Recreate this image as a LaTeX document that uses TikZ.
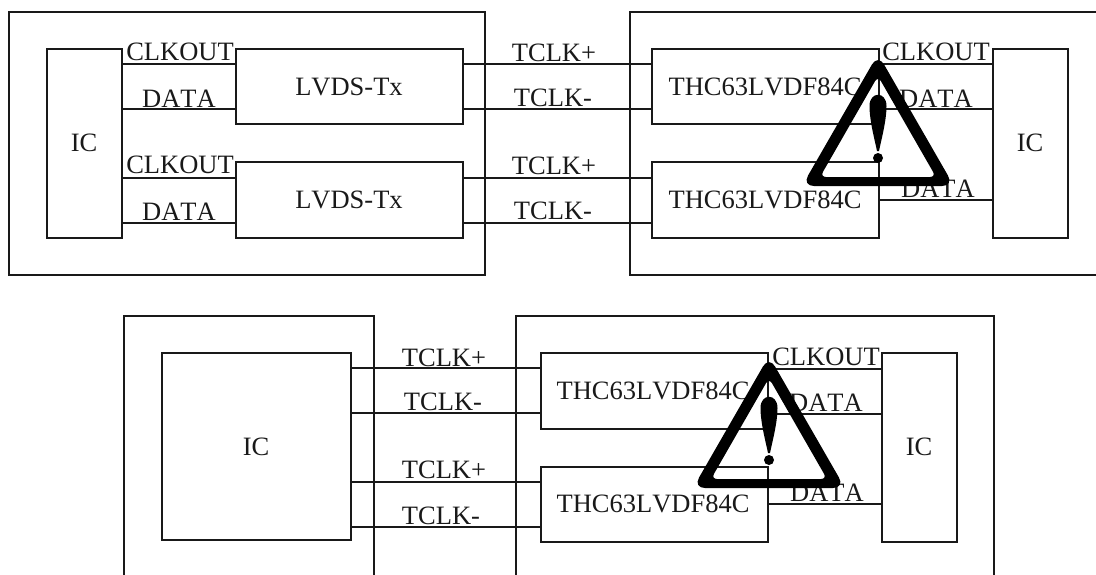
\documentclass[tikz,border=0pt]{standalone}
\usepackage{fontspec}
\setmainfont[Kerning=Off]{Liberation Serif}
\tikzset{
  ln/.style={line width=1.5pt,black!90},
  blk/.style={draw,line width=1.5pt,black!90,outer sep=0pt,inner sep=0pt,anchor=north west},
  lab/.style={anchor=base,inner sep=0pt,font=\fontsize{26.5}{30}\selectfont,text=black!90},
  warn/.pic={
    \fill[black,even odd rule]
      [rounded corners=12pt] (0,-132) -- (-76,0) -- (76,0) -- cycle
      [rounded corners=6pt] (0,-110) -- (-58,-9) -- (58,-9) -- cycle;
    \fill[black] (-8.5,-80) .. controls (-8.5,-95) and (8.5,-95) .. (8.5,-80)
       .. controls (8.5,-65) and (3,-45) .. (1,-35) -- (-1,-35) .. controls (-3,-45) and (-8.5,-65) .. (-8.5,-80) -- cycle;
    \fill[black] (0,-28) circle (5);
  }
}
\begin{document}
\begin{tikzpicture}[x=1pt,y=-1pt]
\useasboundingbox (0,0) rectangle (1096,574);
% outer frames
\node[blk,minimum width=476pt,minimum height=263pt] (frameA) at (9,12) {};
\draw[ln] (1097,12) -- (630,12) -- (630,275) -- (1097,275);
\draw[ln] (124,576) -- (124,316) -- (374,316) -- (374,576);
\draw[ln] (516,576) -- (516,316) -- (994,316) -- (994,576);
% top left
\node[blk,minimum width=75pt,minimum height=189pt] (icA) at (47,49) {};
\node[blk,minimum width=227pt,minimum height=75pt] (txA) at (236,49) {};
\node[blk,minimum width=227pt,minimum height=76pt] (txB) at (236,162) {};
% top right
\node[blk,minimum width=227pt,minimum height=75pt] (rxA) at (652,49) {};
\node[blk,minimum width=227pt,minimum height=76pt] (rxB) at (652,162) {};
\node[blk,minimum width=75pt,minimum height=189pt] (icB) at (993,49) {};
% bottom
\node[blk,minimum width=189pt,minimum height=187pt] (icC) at (162,353) {};
\node[blk,minimum width=227pt,minimum height=76pt] (rxC) at (541,353) {};
\node[blk,minimum width=227pt,minimum height=75pt] (rxD) at (541,467) {};
\node[blk,minimum width=75pt,minimum height=189pt] (icD) at (882,353) {};
% connectors
\foreach \a/\b/\d in {icA/txA/15,icA/txA/60,icA/txB/129,icA/txB/174}{
  \draw[ln] ([yshift=-\d pt]\a.north east) -- ([yshift=-\d pt]\a.north east -| \b.west);}
\foreach \a/\b/\d in {txA/rxA/15,txA/rxA/60,txB/rxB/16,txB/rxB/61}{
  \draw[ln] ([yshift=-\d pt]\a.north east) -- ([yshift=-\d pt]\b.north west);}
\foreach \a/\b/\d in {rxA/icB/15,rxA/icB/60}{
  \draw[ln] ([yshift=-\d pt]\a.north east) -- ([yshift=-\d pt]\a.north east -| \b.west);}
\draw[ln] ([yshift=-38pt]rxB.north east) -- ([yshift=-38pt]rxB.north east -| icB.west);
\foreach \a/\b/\d in {icC/rxC/15,icC/rxC/60,icC/rxD/129,icC/rxD/174}{
  \draw[ln] ([yshift=-\d pt]\a.north east) -- ([yshift=-\d pt]\a.north east -| \b.west);}
\foreach \a/\b/\d in {rxC/icD/16,rxC/icD/61}{
  \draw[ln] ([yshift=-\d pt]\a.north east) -- ([yshift=-\d pt]\a.north east -| \b.west);}
\draw[ln] ([yshift=-37pt]rxD.north east) -- ([yshift=-37pt]rxD.north east -| icD.west);
% labels
\node[lab] (t01) at (180,60) {CLKOUT};
\node[lab] (t02) at (179,107.5) {DATA};
\node[lab] (t03) at (180,173) {CLKOUT};
\node[lab] (t04) at (179,220.5) {DATA};
\node[lab] (t05) at (84,151) {IC};
\node[lab] (t06) at (349,95) {LVDS-Tx};
\node[lab] (t07) at (349,208) {LVDS-Tx};
\node[lab] (t08) at (554,61) {TCLK+};
\node[lab] (t09) at (553,106) {TCLK-};
\node[lab] (t10) at (554,174) {TCLK+};
\node[lab] (t11) at (553,219) {TCLK-};
\node[lab] (t12) at (765,95) {THC63LVDF84C};
\node[lab] (t13) at (765,208) {THC63LVDF84C};
\node[lab] (t14) at (936,60) {CLKOUT};
\node[lab] (t15) at (936,107.5) {DATA};
\node[lab] (t16) at (938,197) {DATA};
\node[lab] (t17) at (1030,151) {IC};
\node[lab] (t18) at (256,455) {IC};
\node[lab] (t19) at (444,366) {TCLK+};
\node[lab] (t20) at (443,410) {TCLK-};
\node[lab] (t21) at (444,478) {TCLK+};
\node[lab] (t22) at (441,524) {TCLK-};
\node[lab] (t23) at (653,399) {THC63LVDF84C};
\node[lab] (t24) at (653,512) {THC63LVDF84C};
\node[lab] (t25) at (826,365) {CLKOUT};
\node[lab] (t26) at (826,411) {DATA};
\node[lab] (t27) at (827,501) {DATA};
\node[lab] (t28) at (919,455) {IC};
% warning signs
\pic at (878,186) {warn};
\pic at (769,488) {warn};
\end{tikzpicture}
\end{document}
